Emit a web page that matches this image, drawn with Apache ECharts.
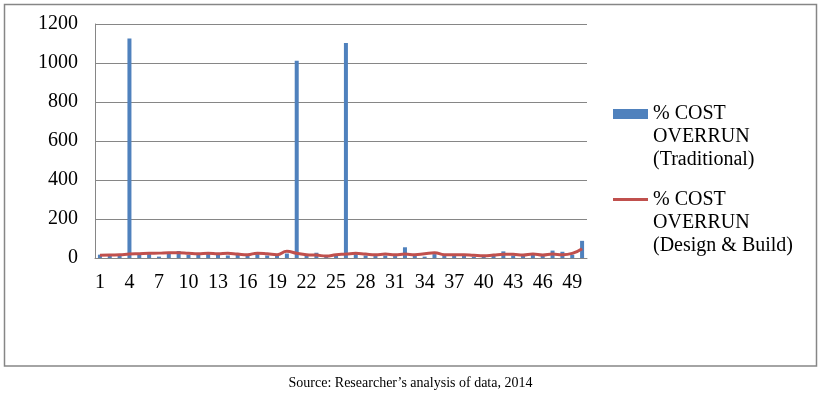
<!DOCTYPE html>
<html>
<head>
<meta charset="utf-8">
<script src="https://cdn.jsdelivr.net/npm/echarts@6/dist/echarts.min.js"></script>
<style>
html,body{margin:0;padding:0;background:#fff;}
#chart{width:821px;height:394px;}
</style>
</head>
<body>
<div id="chart"></div>
<script>
var categories = [];
for (var i = 1; i <= 50; i++) categories.push(String(i));

var traditional = [17,13,17,1126,17,20,7,22,36,17,17,30,17,13,17,13,20,13,13,23,1012,13,27,10,13,1103,20,13,10,13,10,55,13,7,20,12,13,13,7,13,13,34,13,13,25,13,38,32,17,88];
var designBuild = [14,15,17,20,22,24,25,27,27,24,22,24,22,24,20,17,25,22,17,34,24,17,15,10,17,20,24,20,17,20,17,20,17,22,27,17,17,17,14,12,15,19,19,15,20,15,20,17,24,48];

var seriesNames = ['% COST OVERRUN (Traditional)', '% COST OVERRUN (Design & Build)'];
var legendLabels = {};
legendLabels[seriesNames[0]] = '% COST\nOVERRUN\n(Traditional)';
legendLabels[seriesNames[1]] = '% COST\nOVERRUN\n(Design & Build)';
var sourceNote = 'Source: Researcher\u2019s analysis of data, 2014';

var FONT = '"Liberation Serif","Times New Roman",serif';
var chart = echarts.init(document.getElementById('chart'));

var legendBase = {
  orient: 'vertical',
  left: 613,
  padding: 0,
  itemWidth: 35,
  formatter: function (n) { return '\n\n' + legendLabels[n]; },
  textStyle: { fontFamily: FONT, fontSize: 20, lineHeight: 23, color: '#000' }
};

chart.setOption({
  animation: false,
  backgroundColor: '#fff',
  grid: { left: 95, top: 24, width: 492, height: 234 },
  legend: [
    Object.assign({}, legendBase, { top: 56.5, itemHeight: 10, data: [{ name: seriesNames[0], icon: 'rect' }] }),
    Object.assign({}, legendBase, { top: 142, itemHeight: 3, data: [{ name: seriesNames[1], icon: 'rect' }] })
  ],
  xAxis: {
    type: 'category',
    data: categories,
    boundaryGap: true,
    axisLine: { lineStyle: { color: '#868686', width: 1 } },
    axisTick: { show: false },
    axisLabel: { interval: 2, margin: 15, fontFamily: FONT, fontSize: 20, color: '#000' }
  },
  yAxis: {
    type: 'value',
    min: 0, max: 1200, interval: 200,
    axisLine: { show: true, lineStyle: { color: '#868686', width: 1 } },
    axisTick: { show: false },
    splitLine: { lineStyle: { color: '#868686', width: 1 } },
    axisLabel: { margin: 17, fontFamily: FONT, fontSize: 20, color: '#000',
      padding: [4, 0, 0, 0],
      formatter: function (v) { return String(v); } }
  },
  series: [
    {
      name: seriesNames[0], type: 'bar', data: traditional,
      barWidth: 4, itemStyle: { color: '#4F81BD' }
    },
    {
      name: seriesNames[1], type: 'line', data: designBuild,
      smooth: true, symbol: 'none',
      lineStyle: { color: '#C0504D', width: 3 },
      itemStyle: { color: '#C0504D' }
    }
  ],
  graphic: [
    { type: 'rect', shape: { x: 4.5, y: 4.5, width: 812, height: 361.5 },
      style: { fill: 'none', stroke: '#868686', lineWidth: 1.5 }, silent: true, z: -1 },
    { type: 'text', left: 'center', top: 376,
      style: { text: sourceNote, font: '14px ' + FONT, fill: '#000' } }
  ]
});
</script>
</body>
</html>
